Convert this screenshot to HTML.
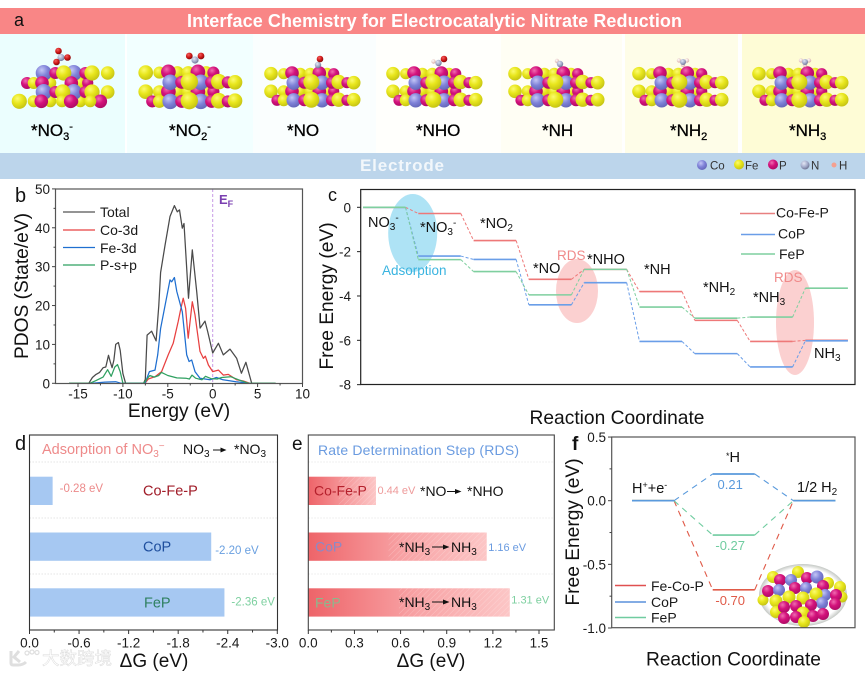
<!DOCTYPE html>
<html lang="en">
<head>
<meta charset="utf-8">
<title>Interface Chemistry for Electrocatalytic Nitrate Reduction</title>
<style>
html,body{margin:0;padding:0;background:#fff;width:865px;height:673px;overflow:hidden}
svg{display:block;font-family:"Liberation Sans","Noto Sans CJK SC",sans-serif}
.tick{font-size:13.5px;fill:#1a1a1a}
.title{font-size:19.2px;fill:#111}
.lab{font-size:14.5px;fill:#111}
</style>
</head>
<body>
<svg id="fig" xmlns="http://www.w3.org/2000/svg" width="865" height="673" viewBox="0 0 865 673">
<defs>
<radialGradient id="gY" cx="38%" cy="32%" r="75%"><stop offset="0" stop-color="#fbfb70"/><stop offset=".45" stop-color="#e8e61c"/><stop offset="1" stop-color="#c0be12"/></radialGradient>
<radialGradient id="gP" cx="38%" cy="32%" r="75%"><stop offset="0" stop-color="#f06cb0"/><stop offset=".45" stop-color="#d4127c"/><stop offset="1" stop-color="#a80a62"/></radialGradient>
<radialGradient id="gC" cx="38%" cy="32%" r="75%"><stop offset="0" stop-color="#c4c6f6"/><stop offset=".5" stop-color="#7f82d8"/><stop offset="1" stop-color="#6062b4"/></radialGradient>
<radialGradient id="gN" cx="38%" cy="32%" r="70%"><stop offset="0" stop-color="#e4e8f6"/><stop offset=".6" stop-color="#a0a8c8"/><stop offset="1" stop-color="#6d7290"/></radialGradient>
<radialGradient id="gO" cx="38%" cy="32%" r="70%"><stop offset="0" stop-color="#f26060"/><stop offset=".55" stop-color="#d01818"/><stop offset="1" stop-color="#800808"/></radialGradient>
<radialGradient id="gH" cx="40%" cy="35%" r="70%"><stop offset="0" stop-color="#fff"/><stop offset="1" stop-color="#d8a8a0"/></radialGradient>
<linearGradient id="rdsFill" x1="0" x2="1" y1="0" y2="0"><stop offset="0" stop-color="#ee6469"/><stop offset=".55" stop-color="#f8a4a6"/><stop offset="1" stop-color="#fcc6c6"/></linearGradient>
<linearGradient id="rdsFillShort" x1="0" x2="1" y1="0" y2="0"><stop offset="0" stop-color="#ee6469"/><stop offset="1" stop-color="#fcc6c6"/></linearGradient>
<pattern id="hatch" width="4" height="4" patternUnits="userSpaceOnUse" patternTransform="rotate(45)"><rect width="4" height="4" fill="none"/><line x1="0" y1="0" x2="0" y2="4" stroke="#fff" stroke-opacity=".28" stroke-width="1"/></pattern>
<radialGradient id="insetBg" cx="50%" cy="50%" r="50%"><stop offset="0" stop-color="#fff"/><stop offset=".86" stop-color="#fff"/><stop offset="1" stop-color="#c4c8c4"/></radialGradient>
</defs>

<!-- Panel a -->
<g id="panelA">
<rect x="0" y="8" width="865" height="26" fill="#f98686"/>
<rect x="0" y="34" width="125" height="119" fill="#ebfefe"/>
<rect x="127" y="34" width="126" height="119" fill="#f2ffff"/>
<rect x="253" y="34" width="123" height="119" fill="#fafefe"/>
<rect x="376" y="34" width="125" height="119" fill="#fffffc"/>
<rect x="501" y="34" width="121" height="119" fill="#fffef4"/>
<rect x="625" y="34" width="113" height="119" fill="#fefde8"/>
<rect x="742" y="34" width="123" height="119" fill="#fefcd6"/>
<rect x="0" y="153" width="865" height="26" fill="#bcd5eb"/>
<text x="14" y="26" font-size="18" fill="#111">a</text>
<text x="187" y="27" font-size="18" font-weight="bold" fill="#fff" textLength="495" lengthAdjust="spacing">Interface Chemistry for Electrocatalytic Nitrate Reduction</text>
<text x="360" y="171" font-size="17" font-weight="bold" fill="#f2f7fb" textLength="84" lengthAdjust="spacing">Electrode</text>
<g id="slabs"></g>
<g font-size="17" fill="#000" stroke="#000" stroke-width=".3">
<text x="31" y="136">*NO<tspan font-size="11" dy="4">3</tspan><tspan font-size="11" dy="-10">-</tspan></text>
<text x="169" y="136">*NO<tspan font-size="11" dy="4">2</tspan><tspan font-size="11" dy="-10">-</tspan></text>
<text x="287" y="136">*NO</text>
<text x="416" y="136">*NHO</text>
<text x="542" y="136">*NH</text>
<text x="670" y="136">*NH<tspan font-size="11" dy="4">2</tspan></text>
<text x="789" y="136">*NH<tspan font-size="11" dy="4">3</tspan></text>
</g>
<g font-size="11.5" fill="#333">
<circle cx="702" cy="165" r="5" fill="url(#gC)"/><text x="710" y="169.500">Co</text>
<circle cx="739" cy="164.500" r="5" fill="url(#gY)"/><text x="745" y="169.500">Fe</text>
<circle cx="773" cy="164.500" r="5" fill="url(#gP)"/><text x="779" y="169.500">P</text>
<circle cx="805" cy="165" r="4.500" fill="url(#gN)"/><text x="811" y="169.500">N</text>
<circle cx="834" cy="165" r="2.500" fill="#f4a090"/><text x="839" y="169.500">H</text>
</g>
</g>

<!-- Panel b -->
<g id="panelB">
<text x="15" y="202" font-size="20" fill="#111">b</text>
<line x1="212.700" x2="212.700" y1="189" y2="383" stroke="#c79be6" stroke-width="1" stroke-dasharray="3 2"/>
<text x="219" y="204" font-size="13" font-weight="bold" fill="#7a3fb0">E<tspan font-size="9" dy="3">F</tspan></text>
<g id="bMarks"></g>
<rect x="55.500" y="189" width="247" height="194.500" fill="none" stroke="#555" stroke-width="1.200"/>
<g id="bAxes"></g>
<g font-size="14" fill="#1a1a1a">
<line x1="63" x2="95" y1="212" y2="212" stroke="#555" stroke-width="1.300"/><text x="100" y="217">Total</text>
<line x1="63" x2="95" y1="230" y2="230" stroke="#e84040" stroke-width="1.300"/><text x="100" y="235">Co-3d</text>
<line x1="63" x2="95" y1="247.500" y2="247.500" stroke="#1f6fd0" stroke-width="1.300"/><text x="100" y="253">Fe-3d</text>
<line x1="63" x2="95" y1="265" y2="265" stroke="#2fa060" stroke-width="1.300"/><text x="100" y="270">P-s+p</text>
</g>
<text class="title" transform="translate(28,286) rotate(-90)" text-anchor="middle">PDOS (State/eV)</text>
<text class="title" x="179" y="417" text-anchor="middle">Energy (eV)</text>
</g>

<!-- Panel c -->
<g id="panelC">
<text x="328" y="201" font-size="18" fill="#111">c</text>
<ellipse cx="412.700" cy="233" rx="24.500" ry="39" fill="#aee3f5"/>
<ellipse cx="577" cy="291" rx="21" ry="32" fill="#fbd0d0"/>
<ellipse cx="795" cy="322.500" rx="19" ry="52.500" fill="#fbd0d0"/>
<g id="cMarks"></g>
<rect x="360.700" y="189.500" width="494.300" height="195" fill="none" stroke="#222" stroke-width="1.200"/>
<g id="cAxes"></g>
<g class="lab">
<text x="368" y="227" class="lab">NO<tspan font-size="10" dy="3">3</tspan><tspan font-size="10" dy="-9">-</tspan></text>
<text x="420" y="232" class="lab">*NO<tspan font-size="10" dy="3">3</tspan><tspan font-size="10" dy="-9">-</tspan></text>
<text x="480" y="228" class="lab">*NO<tspan font-size="10" dy="3">2</tspan></text>
<text x="533" y="273" class="lab">*NO</text>
<text x="587" y="264" class="lab">*NHO</text>
<text x="644" y="274" class="lab">*NH</text>
<text x="703" y="292" class="lab">*NH<tspan font-size="10" dy="3">2</tspan></text>
<text x="753" y="302" class="lab">*NH<tspan font-size="10" dy="3">3</tspan></text>
<text x="814" y="358" class="lab">NH<tspan font-size="10" dy="3">3</tspan></text>
</g>
<text x="557" y="260" font-size="13.500" fill="#f08a8a">RDS</text>
<text x="774" y="282" font-size="13.500" fill="#f08a8a">RDS</text>
<text x="382" y="275" font-size="13.500" fill="#3ab4e0">Adsorption</text>
<g font-size="14" fill="#1a1a1a">
<line x1="740" x2="775" y1="213.500" y2="213.500" stroke="#e88080" stroke-width="1.600"/><text x="776" y="217.500">Co-Fe-P</text>
<line x1="741" x2="775" y1="234.500" y2="234.500" stroke="#6a9ee8" stroke-width="1.600"/><text x="778" y="238.500">CoP</text>
<line x1="741" x2="775" y1="254" y2="254" stroke="#7fcf9f" stroke-width="1.600"/><text x="779" y="259">FeP</text>
</g>
<text class="title" transform="translate(333,296) rotate(-90)" text-anchor="middle">Free Energy (eV)</text>
<text class="title" x="617" y="424" text-anchor="middle">Reaction Coordinate</text>
</g>

<!-- Panel d -->
<g id="panelD">
<text x="15" y="450" font-size="20" fill="#111">d</text>
<g id="dMarks"></g>
<rect x="29.500" y="435" width="248" height="195" fill="none" stroke="#333" stroke-width="1.100"/>
<g id="dAxes"></g>
<text x="42" y="454" font-size="14.500" fill="#ee8a8a">Adsorption of NO<tspan font-size="10" dy="3">3</tspan><tspan font-size="10" dy="-8">−</tspan></text>
<text x="183" y="454" font-size="14" fill="#111">NO<tspan font-size="10" dy="3">3</tspan></text>
<path d="M213 449.500h7.500v-2l6 2.500-6 2.500v-2h-7.500z" fill="#111"/>
<text x="234" y="454" font-size="14" fill="#111">*NO<tspan font-size="10" dy="3">3</tspan></text>
<text x="154" y="667" font-size="19" fill="#111" text-anchor="middle">ΔG (eV)</text>
</g>

<!-- Panel e -->
<g id="panelE">
<text x="292" y="450" font-size="19" fill="#111">e</text>
<g id="eMarks"></g>
<rect x="308.300" y="435" width="246" height="195" fill="none" stroke="#444" stroke-width="1.100"/>
<g id="eAxes"></g>
<text x="318" y="455" font-size="14" fill="#6a9be0" textLength="201">Rate Determination Step (RDS)</text>
<text x="420" y="496" font-size="14" fill="#111">*NO</text>
<path d="M447 491h8v-2l6.500 2.500-6.500 2.500v-2h-8z" fill="#111"/>
<text x="467" y="496" font-size="14" fill="#111">*NHO</text>
<text x="399" y="552" font-size="14" fill="#111">*NH<tspan font-size="10" dy="3">3</tspan></text>
<path d="M432 546.500h11v-2l6.500 2.500-6.500 2.500v-2h-11z" fill="#111"/>
<text x="451" y="552" font-size="14" fill="#111">NH<tspan font-size="10" dy="3">3</tspan></text>
<text x="399" y="607" font-size="14" fill="#111">*NH<tspan font-size="10" dy="3">3</tspan></text>
<path d="M432 601.500h11v-2l6.500 2.500-6.500 2.500v-2h-11z" fill="#111"/>
<text x="451" y="607" font-size="14" fill="#111">NH<tspan font-size="10" dy="3">3</tspan></text>
<text x="431" y="667" font-size="19" fill="#111" text-anchor="middle">ΔG (eV)</text>
</g>

<!-- Panel f -->
<g id="panelF">
<text x="572" y="450" font-size="19" font-weight="bold" fill="#111">f</text>
<ellipse cx="803" cy="595" rx="44" ry="31" fill="url(#insetBg)"/>
<g id="insetAtoms"></g>
<g id="fMarks"></g>
<rect x="611.700" y="437" width="243.300" height="190.700" fill="none" stroke="#555" stroke-width="1.200"/>
<g id="fAxes"></g>
<text x="632" y="493" class="lab">H<tspan font-size="9" dy="-5">+</tspan><tspan dy="5">+e</tspan><tspan font-size="9" dy="-5">-</tspan></text>
<text x="726" y="462" class="lab"><tspan font-size="9" dy="-3">*</tspan><tspan dy="3">H</tspan></text>
<text x="797" y="492" class="lab">1/2 H<tspan font-size="10" dy="3">2</tspan></text>
<g font-size="14" fill="#1a1a1a">
<line x1="615" x2="646" y1="585.500" y2="585.500" stroke="#e05050" stroke-width="1.500"/><text x="651" y="591">Fe-Co-P</text>
<line x1="615" x2="646" y1="602" y2="602" stroke="#5a90dc" stroke-width="1.500"/><text x="651" y="607">CoP</text>
<line x1="615" x2="646" y1="617.500" y2="617.500" stroke="#70cca0" stroke-width="1.500"/><text x="651" y="622.500">FeP</text>
</g>
<text class="title" transform="translate(579,532) rotate(-90)" text-anchor="middle">Free Energy (eV)</text>
<text class="title" x="733.500" y="665.500" text-anchor="middle">Reaction Coordinate</text>
</g>

<!-- Watermark -->
<g opacity=".9">
<path d="M11 651v12q0 2 2 2h5q5 0 8-3M19 651l-5 6 6 5" fill="none" stroke="#dcdcdc" stroke-width="3"/>
<circle cx="27" cy="653" r="2" fill="none" stroke="#dcdcdc" stroke-width="1.200"/>
<circle cx="32" cy="652" r="2" fill="none" stroke="#dcdcdc" stroke-width="1.200"/>
<circle cx="37" cy="652.500" r="2" fill="none" stroke="#dcdcdc" stroke-width="1.200"/>
<text x="42" y="664.500" font-size="17.500" fill="#fff" stroke="#d8d8d8" stroke-width=".5" style="font-family:'Liberation Sans','Noto Sans CJK SC',sans-serif">大数跨境</text>
</g>
</svg>

<script>
// Panel b: PDOS series (energy in eV, density in states/eV)
const totalEnergy = [-16,-13.8,-13.4,-13,-12.6,-12.2,-11.9,-11.6,-11.4,-11.2,-11,-10.8,-10.5,-10.3,-10,-9.7,-7.7,-7.5,-7.3,-6.8,-6.3,-6,-5.8,-5.3,-4.75,-4.27,-3.94,-3.7,-3.38,-3.2,-2.7,-2.27,-1.78,-1.4,-0.86,-0.56,0,0.63,1.18,1.93,2.67,3.2,3.7,4.34,7];
const totalValues = [0,0,1.5,2.3,2.8,4,4.2,7.2,5.5,4,6,10,10.5,8.5,2.5,0,0,1,12.4,13.4,10.9,20,28.5,35.6,42.9,45.7,44.1,44.6,39.9,41.1,21.9,34.3,23.6,14.2,16,13.3,7.8,10.3,7.3,8.8,6.4,2.6,5.4,0,0];
const coEnergy = [-7.54,-7.17,-6.43,-5.69,-4.95,-4.4,-3.84,-3.58,-3.28,-3.02,-2.73,-2.27,-1.97,-1.41,-1.04,-0.82,-0.48,0,0.63,1.18,1.74,2.67,3.41,4.15];
const coValues = [0,1.1,1.7,3,7.3,10.3,15.9,18.9,21.9,19.3,11.6,21,17.6,8.2,6.4,7,4.7,3,3.4,2.1,2.3,0.9,0.6,0];
const feEnergy = [-13.4,-12,-10.8,-10.2,-7.54,-7.05,-6.43,-6.13,-5.8,-5.3,-4.76,-4.57,-4.27,-4,-3.38,-2.9,-2.63,-2.34,-1.97,-1.41,-0.3,0.41,1.15,2.6,4.1];
const feValues = [0,0.3,0.4,0,0,3,3.4,7.3,14.1,20.1,26.6,26.1,27.2,23.6,18.4,7.3,5.6,6,3,1.3,0.9,1.5,0.9,0.4,0];
const pEnergy = [-16,-13.7,-13,-12.2,-11.7,-11.3,-10.9,-10.6,-10.3,-10,-7.7,-7,-6.5,-6,-5.7,-5,-4,-3,-2.6,-2.3,-1.9,-1.2,-0.8,-0.2,0.5,1,2,3,4,7];
const pValues = [0,0,0.7,1.6,3.5,1.8,4.2,4.8,3,0,0,2,1.6,2,2.8,2,1.4,1.3,1.1,2.1,1.3,0.9,1.8,1.2,1.1,1.5,1.7,0.8,0,0];
const bXTicks = [-15,-10,-5,0,5,10];
const bYTicks = [0,10,20,30,40,50];

// Panel c: free energy levels along the reaction coordinate
const cSteps = ["NO3-","*NO3-","*NO2","*NO","*NHO","*NH","*NH2","*NH3","NH3"];
const cCoFeP = [0,-0.28,-1.5,-3.25,-2.8,-3.8,-5.1,-6.05,-6.0];
const cCoP = [0,-2.2,-2.35,-4.4,-3.4,-6.05,-6.6,-7.2,-6.02];
const cFeP = [0,-2.36,-2.9,-3.95,-2.8,-4.5,-5.0,-4.95,-3.65];
const cYTicks = [0,-2,-4,-6,-8];

// Panel d: adsorption energies
const dCategories = ["Co-Fe-P","CoP","FeP"];
const dValues = [-0.28,-2.2,-2.36];
const dXTicks = [0,-0.6,-1.2,-1.8,-2.4,-3.0];

// Panel e: rate determining step barriers
const eCategories = ["Co-Fe-P","CoP","FeP"];
const eValues = [0.44,1.16,1.31];
const eXTicks = [0,0.3,0.6,0.9,1.2,1.5];

// Panel f: hydrogen evolution levels
const fCoP = [0,0.21,0];
const fFeP = [0,-0.27,0];
const fFeCoP = [0,-0.70,0];
const fYTicks = [0.5,0,-0.5,-1.0];

const NS = 'http://www.w3.org/2000/svg';
function mk(parent, tag, attrs, txt){
  const el = document.createElementNS(NS, tag);
  for (const k in attrs) el.setAttribute(k, attrs[k]);
  if (txt !== undefined) el.textContent = txt;
  parent.appendChild(el);
  return el;
}
const $ = id => document.getElementById(id);

/* ---------- axis scales ---------- */
const xB = e => 212.7 + 8.98 * e;
const yB = v => 383.3 - 3.888 * v;
const xCStart = i => 363 + 55.3 * i;
const cLevelW = 42.5;
const yC = v => 207.3 + 22.17 * (-v);
const xD = v => 29.5 + 82.6 * (-v);
const xE = v => 308.3 + 153.8 * v;
const yF = v => 500.7 - 127.3 * v;
const xFStart = i => 632 + 80.7 * i;
const fLevelW = 42;
const barTop = i => 476.7 + 55.8 * i;
const barH = 28.3;

/* ---------- panel b ---------- */
function curve(xs, ys, color, name){
  const d = xs.map((x, i) => (i ? 'L' : 'M') + xB(x).toFixed(1) + ' ' + yB(ys[i]).toFixed(1)).join('');
  const el = mk($('bMarks'), 'path', {d: d, fill: 'none', stroke: color, 'stroke-width': 1.25, 'stroke-linejoin': 'round'});
  
  
}
curve(totalEnergy, totalValues, '#4a4a4a', 'total-dos-line');
curve(coEnergy, coValues, '#e84040', 'co-3d-line');
curve(feEnergy, feValues, '#1f6fd0', 'fe-3d-line');
curve(pEnergy, pValues, '#2fa060', 'p-sp-line');

function tick(parent, x1, y1, x2, y2, color, width){
  const el = mk(parent, 'line', {x1: x1, y1: y1, x2: x2, y2: y2, stroke: color, 'stroke-width': width || 1});
  
  
}
function tickLabel(parent, x, y, anchor, s){
  const el = mk(parent, 'text', {x: x, y: y, 'text-anchor': anchor, class: 'tick'}, s);
  
  
}
bXTicks.forEach((t, i) => {
  tick($('bAxes'), xB(t), 383.3, xB(t), 387, '#444');
  tickLabel($('bAxes'), xB(t), 398.5, 'middle', String(t));
  if (i < bXTicks.length - 1) tick($('bAxes'), xB(t + 2.5), 383.3, xB(t + 2.5), 385.5, '#444');
});
bYTicks.forEach((t, i) => {
  tick($('bAxes'), 52, yB(t), 55.5, yB(t), '#444');
  tickLabel($('bAxes'), 50, yB(t) + 5, 'end', String(t));
  if (i < bYTicks.length - 1) tick($('bAxes'), 53.5, yB(t + 5), 55.5, yB(t + 5), '#444');
});

/* ---------- panel c ---------- */
function levelSeries(vals, color, name){
  vals.forEach((v, i) => {
    const line = mk($('cMarks'), 'line', {x1: xCStart(i), x2: xCStart(i) + cLevelW, y1: yC(v), y2: yC(v), stroke: color, 'stroke-width': 1.6});
    
    
    if (i < vals.length - 1) {
      const conn = mk($('cMarks'), 'line', {x1: xCStart(i) + cLevelW, x2: xCStart(i + 1), y1: yC(v), y2: yC(vals[i + 1]), stroke: color, 'stroke-width': 1, 'stroke-dasharray': '3 2'});
      
      
    }
  });
}
levelSeries(cCoFeP, '#ee7878', 'cofep');
levelSeries(cCoP, '#6a9ee8', 'cop');
levelSeries(cFeP, '#7fcf9f', 'fep');
cYTicks.forEach(t => {
  tick($('cAxes'), 357, yC(t), 360.7, yC(t), '#222');
  tickLabel($('cAxes'), 351, yC(t) + 5, 'end', String(t));
});

/* ---------- panel d ---------- */
const dValueColors = ['#ec8a8a', '#6aa0e0', '#7ed0a0'];
const dNameColors = ['#a01c28', '#1f4f9e', '#2f8060'];
const dLabelX = [143, 143, 144];
const dValueGap = [7, 4, 7];
[462, 518, 574].forEach(y => {
  const g = mk($('dMarks'), 'line', {x1: 29.5, x2: 277.5, y1: y, y2: y, stroke: '#ddd', 'stroke-width': .7, 'stroke-dasharray': '1.5 1.5'});
  
  
});
dValues.forEach((v, i) => {
  const bar = mk($('dMarks'), 'rect', {x: xD(0), y: barTop(i), width: xD(v) - xD(0), height: barH, fill: '#a6c8f2'});
  
  
  const val = mk($('dMarks'), 'text', {x: xD(v) + dValueGap[i], y: barTop(i) + [15.5, 21.5, 17][i], 'font-size': 11.5, fill: dValueColors[i]}, v.toFixed(2) + ' eV');
  
  
  const nm = mk($('dMarks'), 'text', {x: dLabelX[i], y: barTop(i) + 19, 'font-size': 14.5, fill: dNameColors[i]}, dCategories[i]);
  
  
});
dXTicks.forEach((t, i) => {
  tick($('dAxes'), xD(t), 630, xD(t), 634, '#333');
  tickLabel($('dAxes'), xD(t), 647.5, 'middle', t === 0 ? '0.0' : t.toFixed(1));
  if (i < dXTicks.length - 1) tick($('dAxes'), xD(t - 0.3), 630, xD(t - 0.3), 632.5, '#333');
});

/* ---------- panel e ---------- */
const eValueColors = ['#ee9a9a', '#6a9be0', '#7ed0a0'];
const eNameColors = ['#b5202c', '#8a8ac8', '#8cb88c'];
const eValueDy = [17.5, 18.5, 15];
[462, 518, 574].forEach(y => {
  const g = mk($('eMarks'), 'line', {x1: 308.3, x2: 554.3, y1: y, y2: y, stroke: '#e4e4e4', 'stroke-width': .7, 'stroke-dasharray': '1.5 1.5'});
  
  
});
eValues.forEach((v, i) => {
  const bar = mk($('eMarks'), 'rect', {x: xE(0), y: barTop(i), width: xE(v) - xE(0), height: barH, fill: i === 0 ? 'url(#rdsFillShort)' : 'url(#rdsFill)'});
  
  
  const hatch = mk($('eMarks'), 'rect', {x: xE(v * 0.45), y: barTop(i), width: xE(v) - xE(v * 0.45), height: barH, fill: 'url(#hatch)'});
  
  
  const val = mk($('eMarks'), 'text', {x: xE(v) + 1.5, y: barTop(i) + eValueDy[i], 'font-size': 11, fill: eValueColors[i]}, v.toFixed(2) + ' eV');
  
  
  const nm = mk($('eMarks'), 'text', {x: i === 0 ? 314 : 315, y: barTop(i) + 19, 'font-size': 14, fill: eNameColors[i]}, eCategories[i]);
  
  
});
eXTicks.forEach((t, i) => {
  tick($('eAxes'), xE(t), 630, xE(t), 634, '#333');
  tickLabel($('eAxes'), xE(t), 647.5, 'middle', t.toFixed(1));
  if (i < eXTicks.length - 1) tick($('eAxes'), xE(t + 0.15), 630, xE(t + 0.15), 632.5, '#333');
});

/* ---------- panel f ---------- */
function hLevels(vals, color, name){
  vals.forEach((v, i) => {
    const line = mk($('fMarks'), 'line', {x1: xFStart(i), x2: xFStart(i) + fLevelW, y1: yF(v), y2: yF(v), stroke: color, 'stroke-width': 1.7});
    
    
    if (i < vals.length - 1) {
      const conn = mk($('fMarks'), 'line', {x1: xFStart(i) + fLevelW, x2: xFStart(i + 1), y1: yF(v), y2: yF(vals[i + 1]), stroke: color, 'stroke-width': 1.1, 'stroke-dasharray': '6 5'});
      
      
    }
  });
  const midVal = vals[1];
  const lab = mk($('fMarks'), 'text', {x: xFStart(1) + fLevelW / 2 - 3.5, y: yF(midVal) + 15, 'text-anchor': 'middle', 'font-size': 13, fill: color}, midVal.toFixed(2));
  
  
}
hLevels(fFeCoP, '#e05a48', 'fecop');
hLevels(fFeP, '#70cca0', 'fep');
hLevels(fCoP, '#5a9adc', 'cop');
fYTicks.forEach((t, i) => {
  tick($('fAxes'), 608, yF(t), 611.7, yF(t), '#444');
  tickLabel($('fAxes'), 606, yF(t) + 5, 'end', t.toFixed(1));
  if (i < fYTicks.length - 1) tick($('fAxes'), 609.5, yF(t - 0.25), 611.7, yF(t - 0.25), '#444');
});

/* ---------- panel a: atomic illustration ---------- */
const atomFill = {Y: 'url(#gY)', P: 'url(#gP)', C: 'url(#gC)', N: 'url(#gN)', O: 'url(#gO)', H: 'url(#gH)'};
function atom(parent, kind, cx, cy, r){
  const el = mk(parent, 'circle', {cx: cx.toFixed(1), cy: cy.toFixed(1), r: r, fill: atomFill[kind]});
  
  
}
// Illustration geometry: kind, x, y, radius, in reference 3x-crop offsets from the slab centre.
const slabTemplate = [
 ['Y',-123,-40,17],['Y',-85,-40,14],['Y',-35,-40,15],['Y',-5,-40,15],['Y',45,-40,15],['P',65,-40,14],
 ['Y',-123,13,17],['Y',-85,13,15],['Y',-35,13,15],['Y',-5,13,15],['Y',45,13,15],['P',65,13,14],
 ['P',-60,-42,17],['P',22,-42,17],['P',-60,13,17],['P',22,13,17],
 ['C',-55,-13,18],['P',-23,-13,15],['C',30,-13,18],['P',60,-13,15],['Y',-2,-15,20],['Y',80,-15,18],['P',105,-13,14],['Y',125,-13,17],
 ['P',-105,40,14],['Y',-85,40,15],['C',-55,40,18],['P',-23,40,15],['C',30,40,18],['P',60,40,15],['Y',-2,38,20],['Y',80,38,18],['P',105,40,14],['Y',125,38,17]
];
const slabTemplateFirst = [
 ['Y',-60,-42,14],['Y',15,-42,14],['P',-105,-12,15],['Y',-85,-12,15],['Y',-35,-12,15],['Y',55,-12,15],['P',77,-12,14],
 ['Y',-85,43,15],['Y',-35,43,15],['Y',55,43,15],['P',-60,43,14],['P',32,43,14],
 ['C',-55,-42,20],['P',-20,-42,15],['C',35,-42,20],['P',70,-42,15],['Y',5,-42,19],['Y',90,-42,19],['Y',137,-42,17],
 ['P',-60,-12,17],['P',28,-12,17],
 ['C',-55,15,20],['P',-20,15,15],['C',35,15,20],['P',70,15,15],['Y',2,15,19],['Y',90,15,19],['Y',137,15,17],
 ['Y',-128,43,19],['P',-62,43,17],['Y',0,43,15],['P',26,43,17],['P',115,43,17],['Y',85,43,15]
];
const slabPlacement = [
 {name:'no3', t:slabTemplateFirst, cx:62, cy:87, s:1},
 {name:'no2', t:slabTemplate, cx:190, cy:87, s:1.08},
 {name:'no', t:slabTemplate, cx:312, cy:87, s:1},
 {name:'nho', t:slabTemplate, cx:434, cy:87, s:1},
 {name:'nh', t:slabTemplate, cx:556, cy:87, s:1},
 {name:'nh2', t:slabTemplate, cx:680, cy:87, s:1},
 {name:'nh3', t:slabTemplate, cx:800, cy:87, s:1}
];
slabPlacement.forEach(sl => {
  const g = mk($('slabs'), 'g', {});
  
  
  sl.t.forEach(a => atom(g, a[0], sl.cx + a[1] * sl.s / 3, sl.cy + a[2] * sl.s / 3, (a[3] * sl.s / 3 * 1.2).toFixed(2)));
});
const adsorbates = [
 ['N',61,57.5,3.6],['O',58.5,51,3.3],['O',67.5,57.5,3.3],['O',56.5,62,3.3],
 ['N',195,60,3.6],['O',189.3,56,3.4],['O',201,56,3.4],
 ['N',318,65,3.2],['O',320,59,3.3],
 ['H',433.5,61.5,2.2],['N',438.5,63,3.2],['O',444,59,3.3],
 ['H',557,61,2.2],['N',560,64,3.2],
 ['H',679,60.5,2.2],['H',687,60.5,2.2],['H',683,65,2.2],['N',683,62,3],
 ['H',801,60.5,2.2],['H',809,60.5,2.2],['H',805,65,2.2],['N',805,62,3]
];
adsorbates.forEach(a => atom($('slabs'), a[0], a[1], a[2], a[3]));

/* inset cluster */
const insetCluster = [
 ['Y',798,572,6],['Y',773,577,6],['Y',828,583,6],['Y',840,587,6],['Y',842,597,5.5],['Y',763,600,5.5],
 ['P',780,580,6],['C',791,580,6],['P',807,578,6],['C',817,577,6.5],['P',823,586,6],
 ['P',768,591,6],['C',779,590,6],['P',795,588,6],['C',806,588,6],['C',825,595,6],['Y',816,594,6.5],['P',836,595,6],
 ['Y',776,601,6.5],['Y',789,597,6.5],['Y',803,598,6.5],['C',822,603,6],['P',835,604,6],
 ['Y',776,612,6],['P',784,607,6],['P',796,606,6],['P',811,605,6],['Y',803,613,6.5],['P',784,618,6],['P',796,617,6],['P',813,616,6],['P',823,614,6],['Y',804,622,6]
];
insetCluster.forEach(a => atom($('insetAtoms'), a[0], a[1], a[2], a[3]));
</script>
</body>
</html>
